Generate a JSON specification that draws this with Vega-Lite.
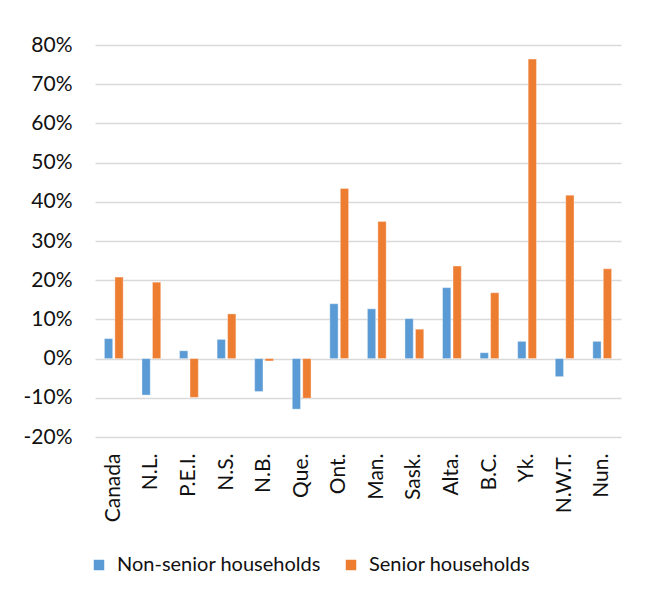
{
  "$schema": "https://vega.github.io/schema/vega-lite/v6.json",
  "width": 526,
  "height": 392,
  "autosize": {"type": "none"},
  "padding": {"left": 95, "top": 45, "right": 29, "bottom": 160},
  "background": "white",
  "data": {
    "values": [
      {"region": "Canada", "series": "Non-senior households", "value": 0.051},
      {"region": "Canada", "series": "Senior households", "value": 0.208},
      {"region": "N.L.", "series": "Non-senior households", "value": -0.093},
      {"region": "N.L.", "series": "Senior households", "value": 0.195},
      {"region": "P.E.I.", "series": "Non-senior households", "value": 0.020},
      {"region": "P.E.I.", "series": "Senior households", "value": -0.099},
      {"region": "N.S.", "series": "Non-senior households", "value": 0.049},
      {"region": "N.S.", "series": "Senior households", "value": 0.114},
      {"region": "N.B.", "series": "Non-senior households", "value": -0.084},
      {"region": "N.B.", "series": "Senior households", "value": -0.006},
      {"region": "Que.", "series": "Non-senior households", "value": -0.129},
      {"region": "Que.", "series": "Senior households", "value": -0.101},
      {"region": "Ont.", "series": "Non-senior households", "value": 0.140},
      {"region": "Ont.", "series": "Senior households", "value": 0.434},
      {"region": "Man.", "series": "Non-senior households", "value": 0.127},
      {"region": "Man.", "series": "Senior households", "value": 0.350},
      {"region": "Sask.", "series": "Non-senior households", "value": 0.102},
      {"region": "Sask.", "series": "Senior households", "value": 0.075},
      {"region": "Alta.", "series": "Non-senior households", "value": 0.181},
      {"region": "Alta.", "series": "Senior households", "value": 0.236},
      {"region": "B.C.", "series": "Non-senior households", "value": 0.015},
      {"region": "B.C.", "series": "Senior households", "value": 0.168},
      {"region": "Yk.", "series": "Non-senior households", "value": 0.044},
      {"region": "Yk.", "series": "Senior households", "value": 0.764},
      {"region": "N.W.T.", "series": "Non-senior households", "value": -0.046},
      {"region": "N.W.T.", "series": "Senior households", "value": 0.417},
      {"region": "Nun.", "series": "Non-senior households", "value": 0.044},
      {"region": "Nun.", "series": "Senior households", "value": 0.229}
    ]
  },
  "mark": {"type": "bar", "stroke": "white", "strokeWidth": 0.6, "strokeOpacity": 0.6},
  "encoding": {
    "x": {
      "field": "region",
      "type": "nominal",
      "sort": null,
      "scale": {"paddingInner": 0.5, "paddingOuter": 0.25},
      "axis": {
        "title": null,
        "labelAngle": -90,
        "labelFont": "Lato",
        "labelFontSize": 21,
        "labelColor": "#111111",
        "labelPadding": 16,
        "domain": false,
        "ticks": false,
        "grid": false
      }
    },
    "xOffset": {
      "field": "series",
      "type": "nominal",
      "scale": {"paddingInner": 0.21}
    },
    "y": {
      "field": "value",
      "type": "quantitative",
      "scale": {"domain": [-0.2, 0.8], "nice": false},
      "axis": {
        "title": null,
        "values": [-0.2, -0.1, 0, 0.1, 0.2, 0.3, 0.4, 0.5, 0.6, 0.7, 0.8],
        "labelExpr": "replace(format(datum.value, '.0%'), '\u2212', '-')",
        "labelFont": "Lato",
        "labelFontSize": 21,
        "labelColor": "#111111",
        "labelPadding": 23,
        "domain": false,
        "ticks": false,
        "grid": true,
        "gridColor": "#d9d9d9",
        "gridWidth": 1.5
      }
    },
    "color": {
      "field": "series",
      "type": "nominal",
      "scale": {
        "domain": ["Non-senior households", "Senior households"],
        "range": ["#5B9BD5", "#ED7D31"]
      },
      "legend": {
        "title": null,
        "orient": "none",
        "direction": "horizontal",
        "legendX": -6,
        "legendY": 510,
        "symbolType": "square",
        "symbolSize": 110,
        "symbolStrokeWidth": 0,
        "labelFont": "Lato",
        "labelFontSize": 20,
        "labelColor": "#111111",
        "labelLimit": 0,
        "labelOffset": 8,
        "columnPadding": 20
      }
    }
  },
  "config": {"view": {"stroke": null}}
}
